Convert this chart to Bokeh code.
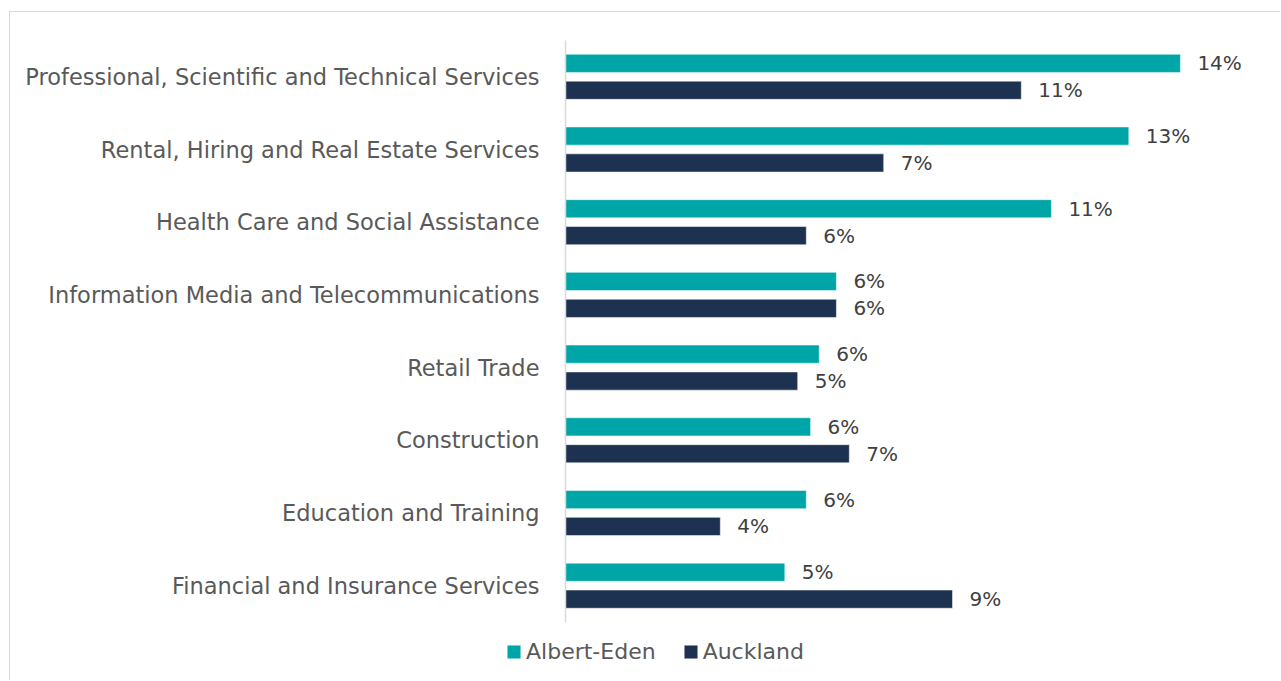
from bokeh.plotting import figure
from bokeh.models import Range1d, ColumnDataSource, Legend, LegendItem, LinearAxis, FixedTicker
from bokeh.core.properties import value
from bokeh.embed import file_html
from bokeh.resources import INLINE

categories = [
    "Professional, Scientific and Technical Services",
    "Rental, Hiring and Real Estate Services",
    "Health Care and Social Assistance",
    "Information Media and Telecommunications",
    "Retail Trade",
    "Construction",
    "Education and Training",
    "Financial and Insurance Services",
]
albert_eden = [14.3, 13.1, 11.3, 6.3, 5.9, 5.7, 5.6, 5.1]
auckland = [10.6, 7.4, 5.6, 6.3, 5.4, 6.6, 3.6, 9.0]
series_names = ["Albert-Eden", "Auckland"]

TEAL = "#00A6A7"
NAVY = "#1D3150"
FONT = "DejaVu Sans"
W, H = 1271, 669
PX_PER_PCT = 43.0
ZERO_X = 555          # canvas px of the zero line
CAT_PX = 72.7         # px per category band
FIRST_Y = 64.3        # canvas px of first category centre
OFF = 0.185

pos = list(range(len(categories)))
src = ColumnDataSource(dict(
    pos=pos,
    ae_y=[i - OFF for i in pos],
    ak_y=[i + OFF for i in pos],
    ae=albert_eden,
    ak=auckland,
    ae_lbl=[f"{v:.0f}%" for v in albert_eden],
    ak_lbl=[f"{v:.0f}%" for v in auckland],
))

p = figure(
    width=W, height=H,
    x_range=Range1d(-ZERO_X / PX_PER_PCT, (W - ZERO_X) / PX_PER_PCT),
    y_range=Range1d((H - FIRST_Y) / CAT_PX, -FIRST_Y / CAT_PX),
    output_backend="svg", toolbar_location=None,
    x_axis_type=None, y_axis_type=None,
    min_border_left=0, min_border_right=0, min_border_top=0, min_border_bottom=0,
)
p.styles = {"border-left": "1px solid #d9d9d9", "border-top": "1px solid #d9d9d9",
            "margin-left": "9px", "margin-top": "11px"}
p.xgrid.visible = False
p.ygrid.visible = False
p.outline_line_color = None

r1 = p.hbar(y="ae_y", right="ae", height=0.25, source=src,
            fill_color=TEAL, line_color="white", line_width=0.5)
r2 = p.hbar(y="ak_y", right="ak", height=0.25, source=src,
            fill_color=NAVY, line_color="white", line_width=0.5)

p.text(x="ae", y="ae_y", text="ae_lbl", source=src,
       x_offset=17, text_baseline="middle", text_align="left",
       text_font=value(FONT), text_font_size="20px", text_color="#404040")
p.text(x="ak", y="ak_y", text="ak_lbl", source=src,
       x_offset=17, text_baseline="middle", text_align="left",
       text_font=value(FONT), text_font_size="20px", text_color="#404040")

ya = LinearAxis(fixed_location=0, bounds=(-0.5, len(categories) - 0.5),
                ticker=FixedTicker(ticks=pos),
                major_label_overrides={i: c for i, c in zip(pos, categories)})
ya.axis_line_color = "#d9d9d9"
ya.axis_line_width = 1.5
ya.major_tick_line_color = None
ya.minor_tick_line_color = None
ya.major_label_standoff = 20
ya.major_label_text_font = FONT
ya.major_label_text_font_size = "22.5px"
ya.major_label_text_color = "#595959"
p.add_layout(ya, "left")

legend = Legend(
    items=[LegendItem(label=series_names[0], renderers=[r1]),
           LegendItem(label=series_names[1], renderers=[r2])],
    orientation="horizontal",
    location=(495, 17),
    glyph_width=17, glyph_height=17,
    label_standoff=4, spacing=26, padding=0, margin=0,
    label_text_font=FONT, label_text_font_size="22px", label_text_color="#595959",
    border_line_color=None, background_fill_alpha=0,
)
p.add_layout(legend, "center")

open("out.html", "w").write(file_html(p, INLINE))
